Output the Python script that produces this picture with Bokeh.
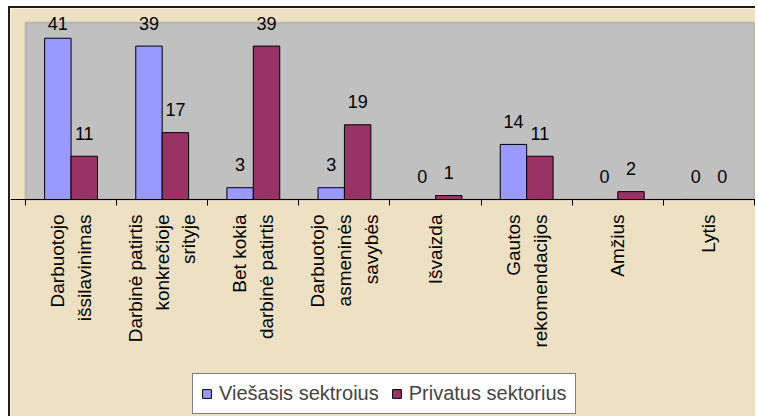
import numpy as np
from bokeh.plotting import figure
from bokeh.models import Range1d, FixedTicker, ColumnDataSource, BoxAnnotation
from bokeh.core.properties import value
from bokeh.embed import file_html
from bokeh.resources import INLINE

# ---- data ----
categories = [
    "Darbuotojo\nišsilavinimas",
    "Darbinė patirtis\nkonkrečioje\nsrityje",
    "Bet kokia\ndarbinė patirtis",
    "Darbuotojo\nasmeninės\nsavybės",
    "Išvaizda",
    "Gautos\nrekomendacijos",
    "Amžius",
    "Lytis",
]
public_vals = [41, 39, 3, 3, 0, 14, 0, 0]
private_vals = [11, 17, 39, 19, 1, 11, 2, 0]
series_names = ["Viešasis sektroius", "Privatus sektorius"]
y_max = 45
label_ceiling = 39  # value labels are kept inside the chart area

# ---- styling constants ----
FONT_NAME = "Liberation Sans"
FONT = value(FONT_NAME)
BLUE = "#9999FF"
RED = "#993366"
BEIGE = "#EEE1C3"
GRAY = "#C0C0C0"
BAR_W = 0.29

n = len(categories)
centers = np.arange(n) + 0.5
pub = np.array(public_vals)
priv = np.array(private_vals)

src = ColumnDataSource(dict(
    x_pub=centers - BAR_W / 2,
    x_priv=centers + BAR_W / 2,
    pub=pub,
    priv=priv,
    pub_ly=np.minimum(pub, label_ceiling),
    priv_ly=np.minimum(priv, label_ceiling),
    pub_t=[str(v) for v in public_vals],
    priv_t=[str(v) for v in private_vals],
))
cat_src = ColumnDataSource(dict(cx=centers, cy=np.zeros(n), cat=categories))

# the frame covers the whole chart area; the grey plot area is a box in it
p = figure(
    width=747, height=410,
    x_range=Range1d(-0.1646, n + 0.033), y_range=Range1d(-55.68, 48.56),
    x_axis_location="above", y_axis_location=None,
    toolbar_location=None, output_backend="svg",
    min_border_left=0, min_border_right=0,
    min_border_top=0, min_border_bottom=0,
)
p.styles = {"margin-left": "8px", "margin-top": "6px",
            "border-top": "2px solid #1e1e1e", "border-left": "2px solid #1e1e1e"}
p.background_fill_color = BEIGE
p.border_fill_color = BEIGE
p.outline_line_color = None
p.xgrid.grid_line_color = None
p.ygrid.grid_line_color = None

p.add_layout(BoxAnnotation(left=0, right=n, bottom=0, top=y_max,
                           fill_color=GRAY, fill_alpha=1,
                           line_color="#808080", line_width=2,
                           level="underlay"))

ax = p.xaxis[0]
ax.fixed_location = 0
ax.ticker = FixedTicker(ticks=list(range(n + 1)))
ax.major_tick_in = 6
ax.major_tick_out = 0
ax.minor_tick_line_color = None
ax.major_label_overrides = {i: "" for i in range(n + 1)}
ax.major_label_standoff = 0
ax.axis_line_color = "black"
ax.major_tick_line_color = "black"

p.vbar(x="x_pub", top="pub", width=BAR_W, source=src,
       fill_color=BLUE, line_color="black", line_width=1,
       legend_label=series_names[0])
p.vbar(x="x_priv", top="priv", width=BAR_W, source=src,
       fill_color=RED, line_color="black", line_width=1,
       legend_label=series_names[1])

for xf, yf, tf in [("x_pub", "pub_ly", "pub_t"), ("x_priv", "priv_ly", "priv_t")]:
    p.text(x=xf, y=yf, text=tf, source=src, y_offset=-23,
           text_align="center", text_baseline="alphabetic",
           text_font=FONT, text_font_size="18px", text_color="black")

p.text(x="cx", y="cy", text="cat", source=cat_src, y_offset=15,
       angle=np.pi / 2, text_align="right", text_baseline="middle",
       text_font=FONT, text_font_size="19px", text_line_height=1.27,
       text_color="black")

lg = p.legend[0]
lg.location = (182, 4)
lg.orientation = "horizontal"
lg.label_text_font = FONT_NAME
lg.label_text_font_size = "20px"
lg.glyph_width = 11
lg.glyph_height = 11
lg.label_standoff = 7
lg.spacing = 12
lg.padding = 8
lg.margin = 0
lg.border_line_color = "black"
lg.border_line_width = 1
lg.background_fill_color = "white"
lg.background_fill_alpha = 1

open("out.html", "w").write(file_html(p, INLINE))
